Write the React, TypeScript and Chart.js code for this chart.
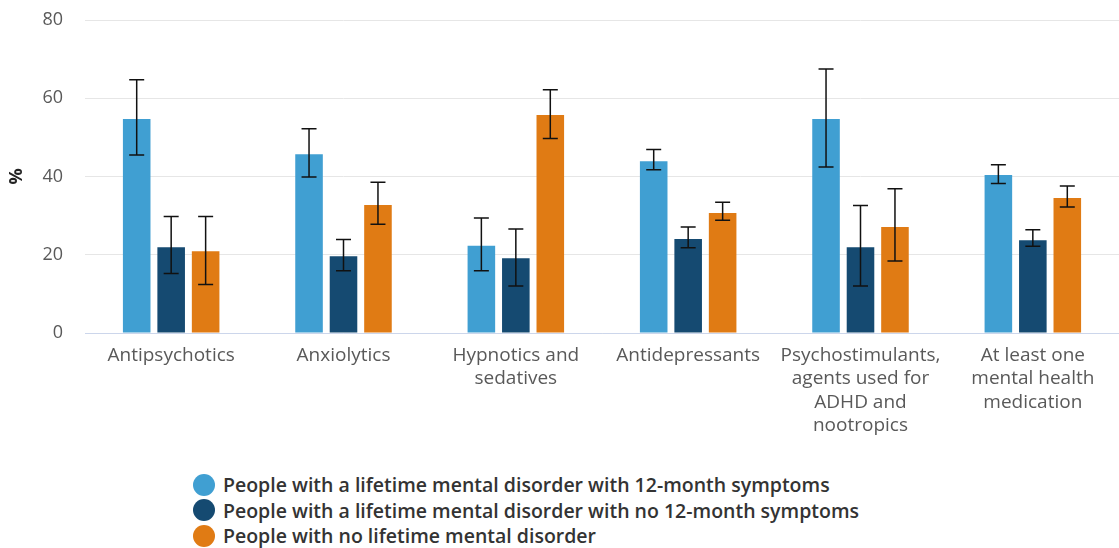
import React, { useEffect, useRef } from "react";
import { Chart, registerables } from "chart.js";

Chart.register(...registerables);

const categories: (string | string[])[] = [
  "Antipsychotics",
  "Anxiolytics",
  ["Hypnotics and", "sedatives"],
  "Antidepressants",
  ["Psychostimulants,", "agents used for", "ADHD and", "nootropics"],
  ["At least one", "mental health", "medication"],
];

const seriesNames = [
  "People with a lifetime mental disorder with 12-month symptoms",
  "People with a lifetime mental disorder with no 12-month symptoms",
  "People with no lifetime mental disorder",
];

const seriesColors = ["#409FD2", "#154A71", "#E07B14"];

const withSymptoms = [54.7, 45.7, 22.3, 43.9, 54.7, 40.4];
const withSymptomsLow = [45.5, 39.9, 15.9, 41.7, 42.4, 38.2];
const withSymptomsHigh = [64.7, 52.2, 29.4, 46.9, 67.5, 43.0];

const noSymptoms = [21.9, 19.6, 19.1, 24.0, 21.9, 23.7];
const noSymptomsLow = [15.2, 15.9, 12.0, 21.8, 12.0, 22.2];
const noSymptomsHigh = [29.8, 23.9, 26.6, 27.1, 32.6, 26.4];

const noDisorder = [20.9, 32.7, 55.7, 30.7, 27.1, 34.5];
const noDisorderLow = [12.4, 27.8, 49.7, 28.8, 18.4, 32.2];
const noDisorderHigh = [29.8, 38.5, 62.2, 33.4, 36.9, 37.6];

const yTicks = [0, 20, 40, 60, 80];

const seriesValues = [withSymptoms, noSymptoms, noDisorder];
const seriesLow = [withSymptomsLow, noSymptomsLow, noDisorderLow];
const seriesHigh = [withSymptomsHigh, noSymptomsHigh, noDisorderHigh];

const errorBarPlugin = {
  id: "errorBars",
  afterDatasetsDraw(chart: any) {
    const ctx = chart.ctx;
    const y = chart.scales.y;
    ctx.save();
    ctx.strokeStyle = "#111";
    ctx.lineWidth = 1.5;
    chart.data.datasets.forEach((ds: any, di: number) => {
      const meta = chart.getDatasetMeta(di);
      meta.data.forEach((bar: any, i: number) => {
        const x = bar.x;
        const yl = y.getPixelForValue(seriesLow[di][i]);
        const yh = y.getPixelForValue(seriesHigh[di][i]);
        const cap = 7.5;
        ctx.beginPath();
        ctx.moveTo(x, yh);
        ctx.lineTo(x, yl);
        ctx.moveTo(x - cap, yh);
        ctx.lineTo(x + cap, yh);
        ctx.moveTo(x - cap, yl);
        ctx.lineTo(x + cap, yl);
        ctx.stroke();
      });
    });
    ctx.restore();
  },
};

export default function App() {
  const canvasRef = useRef<HTMLCanvasElement | null>(null);

  useEffect(() => {
    document.body.style.margin = "0";
    const canvas = canvasRef.current;
    if (!canvas) return;
    const chart = new Chart(canvas, {
      type: "bar",
      data: {
        labels: categories,
        datasets: seriesNames.map((name, i) => ({
          label: name,
          data: seriesValues[i],
          backgroundColor: seriesColors[i],
          borderWidth: 0,
          barPercentage: 0.8,
          categoryPercentage: 0.6,
        })),
      },
      options: {
        animation: false,
        responsive: false,
        maintainAspectRatio: false,
        layout: { padding: { top: 20, right: 0, left: 0, bottom: 0 } },
        plugins: {
          legend: { display: false },
          tooltip: { enabled: false },
        },
        scales: {
          x: {
            grid: { display: false, drawTicks: false },
            border: { color: "#ccd6eb", width: 1 },
            ticks: {
              color: "#595959",
              font: { family: "'Open Sans'", size: 19, lineHeight: 1.23 },
              padding: 11,
              maxRotation: 0,
              autoSkip: false,
            },
            afterFit(scale: any) {
              scale.height = 450 - 333;
            },
          },
          y: {
            min: 0,
            max: 80,
            afterBuildTicks(scale: any) {
              scale.ticks = yTicks.map((v) => ({ value: v }));
            },
            grid: { color: "#e6e6e6", drawTicks: false },
            border: { display: false },
            ticks: {
              color: "#595959",
              font: { family: "'Open Sans'", size: 18 },
              padding: 22,
            },
            title: {
              display: true,
              text: "%",
              color: "#222",
              font: { family: "'Open Sans'", size: 18, weight: "bold" },
              padding: { top: 6, bottom: 4 },
            },
            afterFit(scale: any) {
              scale.width = 85;
              scale.paddingTop = 0;
              scale.paddingBottom = 0;
            },
          },
        },
      },
      plugins: [errorBarPlugin],
    });
    return () => chart.destroy();
  }, []);

  return (
    <div style={{ position: "relative", width: 1119, height: 548, background: "#fff" }}>
      <canvas ref={canvasRef} width={1119} height={450} style={{ display: "block" }} />
      <div
        style={{
          position: "absolute",
          left: 193,
          top: 472,
          display: "flex",
          flexDirection: "column",
          fontFamily: "'Open Sans'",
          fontWeight: 600,
          fontSize: 19.5,
          color: "#333",
        }}
      >
        {seriesNames.map((n, i) => (
          <div key={n} style={{ display: "flex", alignItems: "center", height: 25.5, whiteSpace: "nowrap" }}>
            <span
              style={{
                display: "inline-block",
                width: 22,
                height: 22,
                borderRadius: "50%",
                background: seriesColors[i],
                marginRight: 8,
              }}
            />
            <span>{n}</span>
          </div>
        ))}
      </div>
    </div>
  );
}
